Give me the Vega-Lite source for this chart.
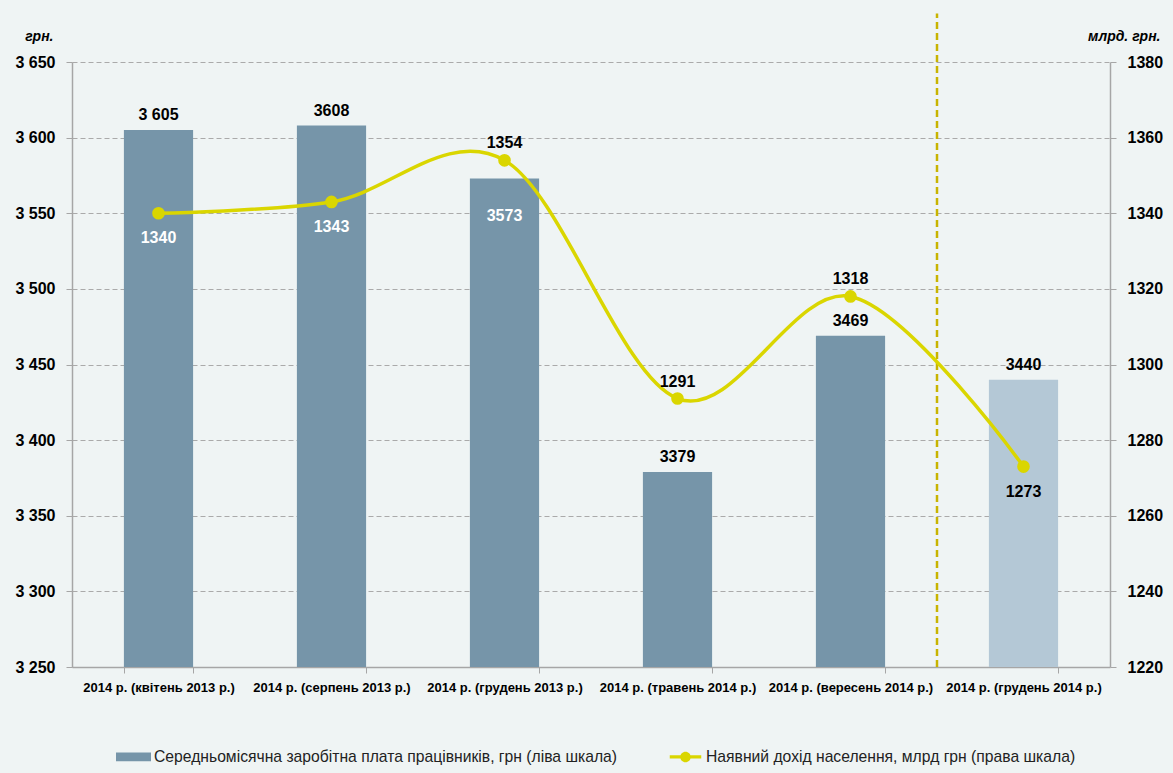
{
  "$schema": "https://vega.github.io/schema/vega-lite/v6.json",
  "width": 1038,
  "height": 605,
  "autosize": {"type": "none"},
  "padding": {"left": 72, "top": 62, "right": 63, "bottom": 106},
  "background": "#eff4f4",
  "config": {
    "view": {"stroke": null},
    "font": "Liberation Sans",
    "text": {"font": "Liberation Sans"}
  },
  "data": {
    "values": [
      {"cat": "2014 р. (квітень 2013 р.)", "wage": 3605, "wage_label": "3 605", "income": 1340},
      {"cat": "2014 р. (серпень 2013 р.)", "wage": 3608, "wage_label": "3608", "income": 1343},
      {"cat": "2014 р. (грудень 2013 р.)", "wage": 3573, "wage_label": "3573", "income": 1354},
      {"cat": "2014 р. (травень 2014 р.)", "wage": 3379, "wage_label": "3379", "income": 1291},
      {"cat": "2014 р. (вересень 2014 р.)", "wage": 3469, "wage_label": "3469", "income": 1318},
      {"cat": "2014 р. (грудень 2014 р.)", "wage": 3440, "wage_label": "3440", "income": 1273}
    ]
  },
  "resolve": {"scale": {"y": "independent"}, "axis": {"y": "independent"}},
  "layer": [
    {
      "layer": [
        {
          "mark": {"type": "bar"},
          "encoding": {
            "x": {
              "field": "cat", "type": "nominal", "sort": null,
              "scale": {"paddingInner": 0.6, "paddingOuter": 0.3},
              "axis": {
                "title": null, "labelAngle": 0, "tickBand": "extent",
                "domainColor": "#a6a6a6", "domainWidth": 1.5,
                "tickColor": "#a6a6a6", "tickSize": 6, "tickWidth": 1,
                "labelFont": "Liberation Sans", "labelFontSize": 13, "labelFontWeight": "bold",
                "labelColor": "#000", "labelPadding": 8, "labelLimit": 200
              }
            },
            "y": {
              "field": "wage", "type": "quantitative",
              "scale": {"domain": [3250, 3650], "zero": false, "nice": false},
              "axis": {
                "values": [3250, 3300, 3350, 3400, 3450, 3500, 3550, 3600, 3650],
                "labelExpr": "replace(format(datum.value, ','), ',', ' ')",
                "grid": true, "gridDash": [5, 3], "gridColor": "#aaaaaa", "gridWidth": 1,
                "domainColor": "#a6a6a6", "domainWidth": 1.5,
                "tickColor": "#a6a6a6", "tickSize": 6,
                "labelPadding": 11, "labelFont": "Liberation Sans", "labelFontSize": 16,
                "labelFontWeight": "bold", "labelColor": "#000",
                "title": "грн.", "titleAngle": 0, "titleX": -19, "titleY": -22,
                "titleAlign": "right", "titleBaseline": "alphabetic",
                "titleFont": "Liberation Sans", "titleFontStyle": "italic", "titleFontWeight": "bold",
                "titleFontSize": 14, "titleColor": "#000"
              }
            },
            "y2": {"datum": 3250},
            "color": {
              "condition": {"test": "datum.wage === 3440", "value": "#b4c8d6"},
              "value": "#7695a9"
            }
          }
        },
        {
          "transform": [{"filter": "datum.wage === 3440"}],
          "mark": {"type": "rule", "color": "#c8b400", "strokeWidth": 2.5, "strokeDash": [7, 4]},
          "encoding": {
            "x": {"field": "cat", "type": "nominal", "sort": null, "bandPosition": -0.75},
            "y": {"datum": 3250, "type": "quantitative"},
            "y2": {"datum": 3682}
          }
        },
        {
          "transform": [{"filter": "datum.wage !== 3573"}],
          "mark": {"type": "text", "fontSize": 16, "fontWeight": "bold", "color": "#000", "baseline": "alphabetic", "dy": -10},
          "encoding": {
            "x": {"field": "cat", "type": "nominal", "sort": null},
            "y": {"field": "wage", "type": "quantitative"},
            "text": {"field": "wage_label"}
          }
        },
        {
          "transform": [{"filter": "datum.wage === 3573"}],
          "mark": {"type": "text", "fontSize": 16, "fontWeight": "bold", "color": "#ffffff", "baseline": "alphabetic", "dy": 43},
          "encoding": {
            "x": {"field": "cat", "type": "nominal", "sort": null},
            "y": {"field": "wage", "type": "quantitative"},
            "text": {"field": "wage_label"}
          }
        }
      ]
    },
    {
      "layer": [
        {
          "mark": {"type": "line", "interpolate": "cardinal", "color": "#dad600", "strokeWidth": 3.5},
          "encoding": {
            "x": {"field": "cat", "type": "nominal", "sort": null},
            "y": {
              "field": "income", "type": "quantitative",
              "scale": {"domain": [1220, 1380], "zero": false, "nice": false},
              "axis": {
                "orient": "right",
                "values": [1220, 1240, 1260, 1280, 1300, 1320, 1340, 1360, 1380],
                "format": "d", "grid": false,
                "domainColor": "#a6a6a6", "domainWidth": 1.5,
                "tickColor": "#a6a6a6", "tickSize": 6,
                "labelPadding": 11, "labelFont": "Liberation Sans", "labelFontSize": 16,
                "labelFontWeight": "bold", "labelColor": "#000",
                "title": "млрд. грн.", "titleAngle": 0, "titleX": 50, "titleY": -22,
                "titleAlign": "right", "titleBaseline": "alphabetic",
                "titleFont": "Liberation Sans", "titleFontStyle": "italic", "titleFontWeight": "bold",
                "titleFontSize": 14, "titleColor": "#000"
              }
            }
          }
        },
        {
          "mark": {"type": "point", "filled": true, "color": "#dad600", "size": 160, "opacity": 1},
          "encoding": {
            "x": {"field": "cat", "type": "nominal", "sort": null},
            "y": {"field": "income", "type": "quantitative"}
          }
        },
        {
          "transform": [{"filter": "datum.income === 1354 || datum.income === 1291 || datum.income === 1318"}],
          "mark": {"type": "text", "fontSize": 16, "fontWeight": "bold", "color": "#000", "baseline": "alphabetic", "dy": -12},
          "encoding": {
            "x": {"field": "cat", "type": "nominal", "sort": null},
            "y": {"field": "income", "type": "quantitative"},
            "text": {"field": "income", "type": "quantitative", "format": "d"}
          }
        },
        {
          "transform": [{"filter": "datum.income === 1273"}],
          "mark": {"type": "text", "fontSize": 16, "fontWeight": "bold", "color": "#000", "baseline": "alphabetic", "dy": 30},
          "encoding": {
            "x": {"field": "cat", "type": "nominal", "sort": null},
            "y": {"field": "income", "type": "quantitative"},
            "text": {"field": "income", "type": "quantitative", "format": "d"}
          }
        },
        {
          "transform": [{"filter": "datum.income === 1340 || datum.income === 1343"}],
          "mark": {"type": "text", "fontSize": 16, "fontWeight": "bold", "color": "#ffffff", "baseline": "alphabetic", "dy": 30},
          "encoding": {
            "x": {"field": "cat", "type": "nominal", "sort": null},
            "y": {"field": "income", "type": "quantitative"},
            "text": {"field": "income", "type": "quantitative", "format": "d"}
          }
        },
        {
          "data": {
            "values": [
              {"series": "Середньомісячна заробітна плата працівників, грн (ліва шкала)"},
              {"series": "Наявний дохід населення, млрд грн (права шкала)"}
            ]
          },
          "transform": [{"filter": "false"}],
          "mark": {"type": "point", "filled": true, "size": 1225, "opacity": 1},
          "encoding": {
            "color": {
              "field": "series", "type": "nominal",
              "scale": {
                "domain": ["Середньомісячна заробітна плата працівників, грн (ліва шкала)", "Наявний дохід населення, млрд грн (права шкала)"],
                "range": ["#7695a9", "#dad600"]
              },
              "legend": {
                "title": null, "orient": "none", "legendX": 44, "legendY": 677, "direction": "horizontal",
                "labelFont": "Liberation Sans", "labelFontSize": 15.7, "labelColor": "#222",
                "labelOffset": 3, "columnPadding": 50, "symbolSize": 1225, "symbolStrokeWidth": 0, "labelLimit": 700
              }
            },
            "shape": {
              "field": "series", "type": "nominal",
              "scale": {
                "domain": ["Середньомісячна заробітна плата працівників, грн (ліва шкала)", "Наявний дохід населення, млрд грн (права шкала)"],
                "range": ["M-1,-0.25H1V0.25H-1Z", "M-0.9,-0.09H0.9V0.09H-0.9Z M0.3,0A0.3,0.3 0 1,1 -0.3,0A0.3,0.3 0 1,1 0.3,0Z"]
              },
              "legend": {
                "title": null, "orient": "none", "legendX": 44, "legendY": 677, "direction": "horizontal",
                "labelFont": "Liberation Sans", "labelFontSize": 15.7, "labelColor": "#222",
                "labelOffset": 3, "columnPadding": 50, "symbolSize": 1225, "symbolStrokeWidth": 0, "labelLimit": 700
              }
            }
          }
        }
      ]
    }
  ]
}
